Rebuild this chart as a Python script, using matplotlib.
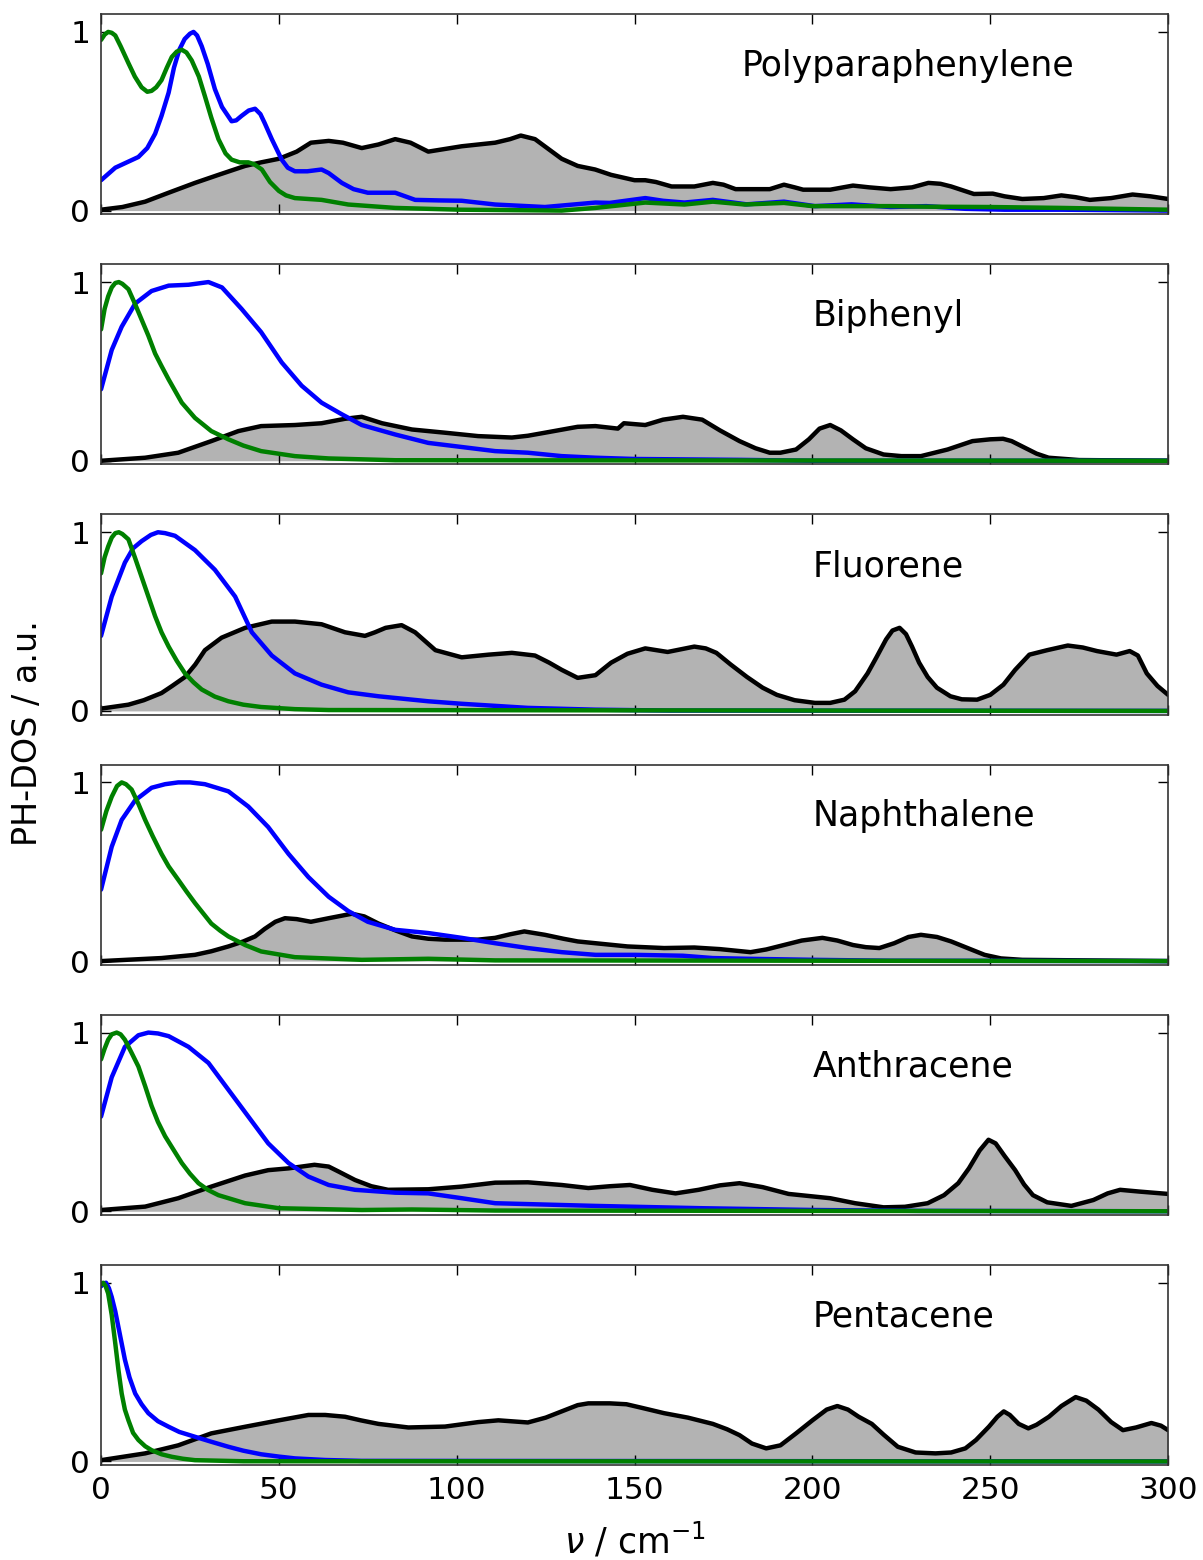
import matplotlib
matplotlib.use("Agg")
import matplotlib.pyplot as plt

# ---------------- data ----------------
names = ["Polyparaphenylene", "Biphenyl", "Fluorene", "Naphthalene", "Anthracene", "Pentacene"]
label_x = [180, 200, 200, 200, 200, 200]

# Polyparaphenylene
ppp_dos_x = [0, 6, 12.4, 19, 26.4, 33, 40.5, 45, 50, 55, 59, 64, 68, 73.3, 78, 82.7, 87, 92, 101.4,
             110.8, 115, 118, 122, 129.5, 134, 138.9, 143.4, 150, 153, 156, 160.4, 166.8, 172, 175,
             178.4, 188, 192, 195, 197.4, 205, 211.4, 216, 222, 228, 232.6, 236, 239, 245.4, 250.7,
             254, 259, 265, 270, 274, 278, 284, 290, 295, 300]
ppp_dos = [0.005, 0.02, 0.05, 0.10, 0.155, 0.20, 0.25, 0.27, 0.29, 0.33, 0.38, 0.39, 0.38, 0.35,
           0.37, 0.40, 0.38, 0.33, 0.36, 0.38, 0.40, 0.42, 0.40, 0.29, 0.25, 0.23, 0.20, 0.17, 0.17,
           0.16, 0.135, 0.135, 0.155, 0.145, 0.12, 0.12, 0.145, 0.13, 0.117, 0.117, 0.14, 0.13, 0.12,
           0.13, 0.155, 0.15, 0.135, 0.093, 0.095, 0.08, 0.065, 0.07, 0.085, 0.075, 0.06, 0.07, 0.09,
           0.08, 0.065]
ppp_blue_x = [0, 4, 10.5, 13, 15.2, 17, 19, 20.5, 22, 23.5, 25, 26, 27, 28.3, 30, 32, 34, 36.7, 38,
              39.5, 41.5, 43.3, 44.8, 46, 48, 50.8, 52.5, 54.5, 58, 62, 64, 67.7, 71, 75, 82.7, 88.3,
              95, 101.4, 110.8, 124.8, 139, 143, 153, 158, 164, 172, 181.5, 192, 200.7, 211, 222,
              232, 243, 254, 270, 300]
ppp_blue = [0.17, 0.24, 0.30, 0.35, 0.43, 0.53, 0.66, 0.80, 0.90, 0.96, 0.99, 1.0, 0.98, 0.92,
            0.82, 0.68, 0.58, 0.50, 0.505, 0.53, 0.56, 0.57, 0.54, 0.49, 0.40, 0.285, 0.24, 0.22,
            0.22, 0.23, 0.21, 0.155, 0.12, 0.10, 0.10, 0.06, 0.057, 0.055, 0.034, 0.02, 0.045,
            0.043, 0.07, 0.055, 0.045, 0.06, 0.035, 0.05, 0.025, 0.035, 0.02, 0.025, 0.01, 0.005,
            0.005, 0.0]
ppp_green_x = [0, 1, 2, 3, 4, 5.5, 7.7, 9.5, 11.4, 13, 14.2, 15.5, 17, 18.5, 19.9, 21.3, 22.7, 24,
               25.5, 27.5, 29.2, 31, 33, 35, 36.7, 39, 41.4, 43, 45.2, 47.5, 50, 52, 54.5, 62,
               69.5, 82.7, 101, 129.5, 139, 153, 164, 172, 181, 192, 200, 211, 222, 232, 250, 270,
               300]
ppp_green = [0.955, 0.985, 1.0, 0.995, 0.98, 0.92, 0.825, 0.75, 0.69, 0.665, 0.67, 0.69, 0.73, 0.80,
             0.86, 0.89, 0.90, 0.885, 0.84, 0.75, 0.64, 0.52, 0.40, 0.32, 0.285, 0.27, 0.27, 0.26,
             0.23, 0.16, 0.11, 0.085, 0.07, 0.06, 0.034, 0.015, 0.005, 0.0, 0.015, 0.045, 0.034,
             0.05, 0.034, 0.043, 0.025, 0.025, 0.025, 0.022, 0.02, 0.015, 0.005]

# Biphenyl
bip_dos_x = [0, 12.4, 21.7, 26, 31, 38.6, 45, 54.5, 62, 68.6, 73.3, 79, 87.4, 96.7, 106, 115.5,
             120, 124.8, 134, 139, 145.3, 147, 153, 158, 163.6, 169, 174, 179.5, 184, 188, 191,
             195.4, 199, 202, 205, 208, 211.4, 215, 220, 225, 230.5, 238, 245, 250, 253.6, 256,
             259, 263, 266.4, 275, 300]
bip_dos = [0.0, 0.017, 0.045, 0.075, 0.11, 0.166, 0.194, 0.20, 0.21, 0.235, 0.246, 0.21, 0.175,
           0.157, 0.138, 0.13, 0.14, 0.157, 0.19, 0.194, 0.18, 0.21, 0.20, 0.23, 0.246, 0.23, 0.17,
           0.11, 0.07, 0.045, 0.045, 0.063, 0.12, 0.18, 0.20, 0.17, 0.12, 0.07, 0.035, 0.026, 0.026,
           0.063, 0.11, 0.12, 0.123, 0.11, 0.08, 0.04, 0.017, 0.004, 0.0]
bip_blue_x = [0, 3, 5.8, 9.6, 14.2, 19, 24.6, 30.2, 34, 39.5, 45, 50.8, 56.4, 62, 67.7, 73.3, 82.7,
              92, 101.4, 110.8, 120, 129.5, 139, 150, 180, 200, 300]
bip_blue = [0.40, 0.62, 0.75, 0.88, 0.95, 0.98, 0.985, 1.0, 0.97, 0.85, 0.72, 0.55, 0.42, 0.325,
            0.26, 0.20, 0.147, 0.10, 0.077, 0.054, 0.045, 0.026, 0.017, 0.01, 0.005, 0.0, 0.0]
bip_green_x = [0, 1, 2, 3, 4, 5, 6, 7.7, 9.5, 11.4, 13.3, 15.2, 17, 19, 22.7, 26.4, 31, 35.8, 40,
               45, 54.5, 64, 82.7, 300]
bip_green = [0.735, 0.85, 0.92, 0.97, 0.995, 1.0, 0.99, 0.96, 0.88, 0.79, 0.70, 0.60, 0.53, 0.455,
             0.325, 0.24, 0.166, 0.12, 0.085, 0.054, 0.026, 0.013, 0.003, 0.0]

# Fluorene
flu_dos_x = [0, 7.7, 12, 17, 20, 23.6, 26.5, 29.2, 33.9, 40.5, 48, 54.5, 62, 68.6, 74.2, 77, 80,
             84.5, 88.3, 94, 101.4, 109, 115.5, 122, 126, 129.5, 134, 139, 143.4, 148, 153, 159.3,
             166.8, 170, 173, 177, 181.6, 186, 190, 195, 200.7, 205, 209, 212, 215.5, 218, 220.7,
             222.5, 224.5, 226.3, 228, 230, 232.4, 235, 238.8, 242, 246.3, 250, 253.7, 257, 261,
             266, 271.8, 276, 280, 285.5, 289.2, 291.5, 294, 297, 300]
flu_dos = [0.013, 0.035, 0.06, 0.10, 0.14, 0.19, 0.26, 0.34, 0.41, 0.465, 0.50, 0.50, 0.485, 0.44,
           0.42, 0.44, 0.465, 0.48, 0.44, 0.34, 0.30, 0.315, 0.325, 0.31, 0.27, 0.23, 0.185, 0.20,
           0.27, 0.32, 0.35, 0.33, 0.36, 0.35, 0.325, 0.26, 0.19, 0.13, 0.09, 0.06, 0.045, 0.045,
           0.063, 0.11, 0.21, 0.30, 0.40, 0.45, 0.465, 0.43, 0.36, 0.27, 0.19, 0.13, 0.082, 0.065,
           0.063, 0.09, 0.147, 0.23, 0.315, 0.34, 0.366, 0.355, 0.335, 0.315, 0.335, 0.31, 0.21,
           0.14, 0.09]
flu_blue_x = [0, 3, 6.7, 9, 11.4, 14, 16, 18, 20.8, 26.4, 32, 37.7, 42.4, 48, 54.5, 62, 69.5, 78,
              92, 101.4, 120, 139, 160, 300]
flu_blue = [0.42, 0.64, 0.83, 0.91, 0.95, 0.985, 1.0, 0.995, 0.98, 0.90, 0.79, 0.64, 0.44, 0.31,
            0.21, 0.147, 0.104, 0.082, 0.054, 0.04, 0.017, 0.007, 0.002, 0.0]
flu_green_x = [0, 1, 2, 3, 4, 5, 6, 7.7, 9.5, 11.4, 13.3, 15.2, 17, 19, 21.3, 23.6, 26, 28.3, 32,
               35.8, 40, 45, 54.5, 64, 300]
flu_green = [0.77, 0.86, 0.92, 0.97, 0.995, 1.0, 0.99, 0.96, 0.86, 0.75, 0.64, 0.53, 0.44, 0.36,
             0.28, 0.21, 0.16, 0.12, 0.08, 0.054, 0.035, 0.022, 0.01, 0.005, 0.0]

# Naphthalene
nap_dos_x = [0, 17, 26.4, 31, 35.8, 40, 43.3, 46, 49, 51.7, 55, 59, 64, 70.5, 74, 78, 83, 87.4,
             92, 96.7, 106, 110.8, 115, 119, 124.8, 130, 134, 139, 148, 158.3, 166.8, 174, 182.6,
             187, 192, 197, 202.8, 207, 211.4, 215, 218.8, 223, 227, 230.5, 235, 239, 244, 248.4,
             253, 259, 300]
nap_dos = [0.0, 0.017, 0.035, 0.055, 0.082, 0.11, 0.138, 0.18, 0.22, 0.24, 0.235, 0.22, 0.24,
           0.265, 0.25, 0.21, 0.17, 0.138, 0.125, 0.12, 0.12, 0.13, 0.15, 0.166, 0.147, 0.125,
           0.11, 0.10, 0.082, 0.073, 0.076, 0.067, 0.05, 0.065, 0.09, 0.115, 0.13, 0.115, 0.09,
           0.078, 0.073, 0.10, 0.135, 0.147, 0.135, 0.11, 0.07, 0.035, 0.015, 0.007, 0.0]
nap_blue_x = [0, 3, 5.8, 9.6, 14.2, 18, 21.7, 25, 29.2, 35.8, 41.4, 47, 52.7, 58.3, 64, 69.5, 75,
              82.7, 92, 101.4, 110.8, 120, 129.5, 139, 150, 163.6, 172, 181.6, 200.7, 222, 300]
nap_blue = [0.40, 0.64, 0.79, 0.90, 0.97, 0.99, 1.0, 1.0, 0.99, 0.95, 0.865, 0.75, 0.60, 0.47,
            0.36, 0.28, 0.22, 0.175, 0.157, 0.13, 0.10, 0.073, 0.05, 0.035, 0.035, 0.03, 0.017,
            0.013, 0.007, 0.002, 0.0]
nap_green_x = [0, 1.5, 3, 4.5, 5.8, 7, 8.6, 10.5, 12.4, 14.5, 17, 19, 21.7, 24, 26.4, 29, 31, 33.5,
               35.8, 40.5, 45, 54.5, 73.3, 92, 110.8, 300]
nap_green = [0.735, 0.84, 0.92, 0.98, 1.0, 0.99, 0.96, 0.88, 0.79, 0.70, 0.60, 0.53, 0.455, 0.39,
             0.325, 0.26, 0.21, 0.17, 0.138, 0.09, 0.054, 0.022, 0.007, 0.013, 0.004, 0.0]

# Anthracene
ant_dos_x = [0, 12.4, 21.7, 31, 40.5, 47, 52.7, 60, 64, 67, 71.4, 76, 80.7, 92, 101.4, 110.8, 120,
             129.5, 137, 143, 148.7, 155, 161.5, 168, 174, 179.5, 186, 193.3, 205, 212, 220, 226,
             232.4, 237, 241, 244, 247, 249.5, 251.5, 254, 257, 259.5, 262, 266, 272.8, 279, 283,
             286.5, 292, 300]
ant_dos = [0.007, 0.026, 0.073, 0.138, 0.20, 0.23, 0.24, 0.26, 0.25, 0.22, 0.175, 0.14, 0.12,
           0.123, 0.138, 0.16, 0.162, 0.147, 0.13, 0.14, 0.147, 0.12, 0.10, 0.12, 0.145, 0.157,
           0.135, 0.097, 0.073, 0.045, 0.022, 0.025, 0.045, 0.09, 0.157, 0.24, 0.34, 0.40, 0.38,
           0.31, 0.23, 0.15, 0.09, 0.05, 0.03, 0.063, 0.10, 0.12, 0.11, 0.097]
ant_blue_x = [0, 3, 6.7, 10.5, 13.3, 16, 19, 24.6, 30.2, 35.8, 41.4, 47, 52.7, 58.3, 64, 71.4, 82.7,
              92, 101.4, 110.8, 129.5, 139, 148, 169, 200.7, 230, 300]
ant_blue = [0.53, 0.75, 0.92, 0.985, 1.0, 0.995, 0.98, 0.92, 0.83, 0.68, 0.53, 0.38, 0.27, 0.194,
            0.147, 0.12, 0.104, 0.10, 0.073, 0.045, 0.035, 0.03, 0.026, 0.017, 0.007, 0.002, 0.0]
ant_green_x = [0, 1, 2, 3, 4.4, 5.5, 6.7, 8.5, 10.5, 12.4, 14.2, 16, 18, 20.5, 22.7, 25, 27.4, 30,
               33, 40.5, 50, 73.3, 87.4, 110.8, 300]
ant_green = [0.85, 0.91, 0.96, 0.99, 1.0, 0.99, 0.96, 0.89, 0.81, 0.70, 0.59, 0.50, 0.42, 0.34,
             0.27, 0.21, 0.157, 0.12, 0.09, 0.045, 0.017, 0.007, 0.01, 0.004, 0.0]

# Pentacene
pen_dos_x = [0, 12.4, 21.7, 31, 40.5, 50, 58.3, 63, 68.6, 73, 78, 86.4, 96.7, 106, 111.7, 120,
             125, 129.5, 134, 137, 143, 147.7, 152, 158.3, 165, 172, 176, 179.5, 183, 187, 191,
             195.4, 200, 204, 207, 210, 213, 216.7, 220, 224, 229, 234.6, 239, 243, 246, 249.6, 252,
             253.8, 255.5, 258, 260.7, 263, 266.5, 270, 274, 277, 280.4, 284, 287.3, 291, 295.3,
             298, 300]
pen_dos = [0.007, 0.045, 0.09, 0.157, 0.194, 0.23, 0.26, 0.26, 0.25, 0.23, 0.21, 0.19, 0.195, 0.22,
           0.23, 0.218, 0.245, 0.28, 0.315, 0.325, 0.325, 0.32, 0.30, 0.27, 0.245, 0.21, 0.18,
           0.147, 0.10, 0.073, 0.09, 0.157, 0.23, 0.29, 0.31, 0.29, 0.25, 0.21, 0.15, 0.082, 0.05,
           0.045, 0.05, 0.073, 0.12, 0.194, 0.25, 0.28, 0.26, 0.21, 0.185, 0.205, 0.25, 0.31, 0.36,
           0.34, 0.29, 0.22, 0.175, 0.19, 0.215, 0.2, 0.175]
pen_blue_x = [0, 0.6, 1.4, 2.2, 3, 4, 4.9, 5.8, 6.7, 8, 9.6, 11.4, 13.3, 16, 19, 22, 26.4, 31, 35.8,
              40, 45, 50, 54.5, 63, 73.3, 300]
pen_blue = [0.98, 0.995, 1.0, 0.97, 0.92, 0.84, 0.75, 0.66, 0.57, 0.47, 0.38, 0.32, 0.27, 0.225,
            0.194, 0.165, 0.138, 0.11, 0.082, 0.06, 0.04, 0.027, 0.017, 0.008, 0.003, 0.0]
pen_green_x = [0, 0.6, 1.3, 2, 3, 4, 4.9, 5.8, 6.7, 7.7, 9, 10.5, 12.4, 14.2, 17, 19.9, 23, 26.4,
               40, 300]
pen_green = [0.99, 1.0, 0.98, 0.94, 0.82, 0.66, 0.51, 0.38, 0.29, 0.23, 0.16, 0.12, 0.085, 0.063,
             0.04, 0.026, 0.015, 0.007, 0.001, 0.0]

dos_x = [ppp_dos_x, bip_dos_x, flu_dos_x, nap_dos_x, ant_dos_x, pen_dos_x]
dos_y = [ppp_dos, bip_dos, flu_dos, nap_dos, ant_dos, pen_dos]
blue_x = [ppp_blue_x, bip_blue_x, flu_blue_x, nap_blue_x, ant_blue_x, pen_blue_x]
blue_y = [ppp_blue, bip_blue, flu_blue, nap_blue, ant_blue, pen_blue]
green_x = [ppp_green_x, bip_green_x, flu_green_x, nap_green_x, ant_green_x, pen_green_x]
green_y = [ppp_green, bip_green, flu_green, nap_green, ant_green, pen_green]

xticks = [0, 50, 100, 150, 200, 250, 300]
yticks = [0, 1]

# ---------------- figure ----------------
plt.rcParams['font.family'] = ['DejaVu Sans']
plt.rcParams['mathtext.fontset'] = 'dejavusans'

fig, axes = plt.subplots(6, 1, figsize=(12.03, 15.6), dpi=100, sharex=True)
fig.subplots_adjust(left=0.084, right=0.971, top=0.991, bottom=0.0609, hspace=0.25)

line_kw = dict(lw=3.2, solid_joinstyle='round', solid_capstyle='round')
for i, ax in enumerate(axes):
    ax.fill_between(dos_x[i], 0, dos_y[i], color='#b3b3b3', linewidth=0)
    ax.plot(dos_x[i], dos_y[i], color='black', **line_kw)
    ax.plot(blue_x[i], blue_y[i], color='blue', **line_kw)
    ax.plot(green_x[i], green_y[i], color='green', **line_kw)
    ax.set_xlim(0, 300)
    ax.set_ylim(-0.02, 1.1)
    ax.set_yticks(yticks)
    ax.set_yticklabels([str(t) for t in yticks])
    ax.set_xticks(xticks)
    ax.tick_params(direction='in', top=True, right=True, length=7, width=1,
                   labelsize=22.5, pad=8)
    ax.text(label_x[i], 0.81, names[i], fontsize=25, va='center', ha='left')
    for s in ax.spines.values():
        s.set_linewidth(1.2)
        s.set_color('#333333')

axes[-1].set_xticklabels([str(t) for t in xticks])
axes[-1].set_xlabel(r'$\nu$ / cm$^{-1}$', fontsize=25, labelpad=12)
fig.text(0.023, 0.530, 'PH-DOS / a.u.', rotation=90, fontsize=24, va='center', ha='center')

fig.savefig('out.png', dpi=100, facecolor='white')
